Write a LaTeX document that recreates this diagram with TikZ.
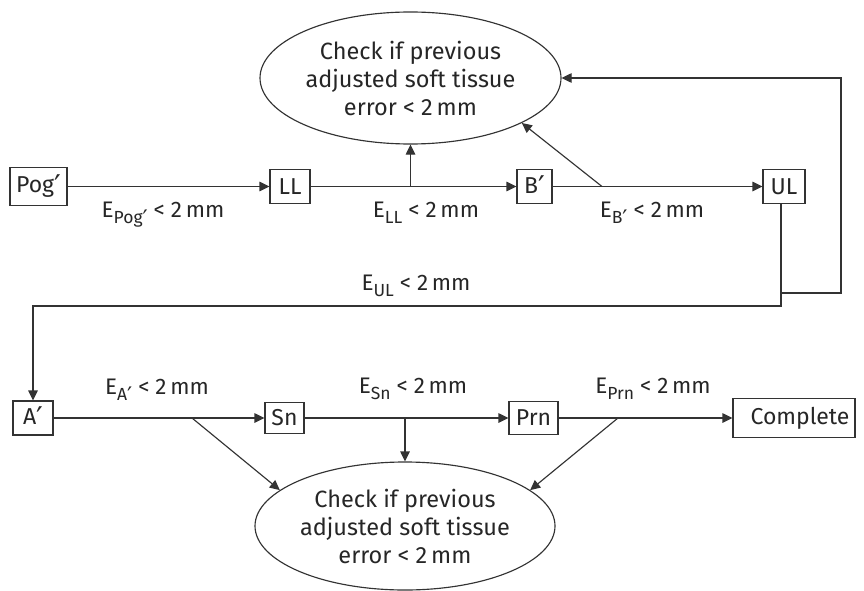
\documentclass[tikz,border=0pt]{standalone}
\usepackage{fontspec}
\setmainfont{Fira Sans}
\newfontfamily\primefont{DejaVu Sans}
\usetikzlibrary{arrows.meta,shapes.geometric,calc}
\definecolor{ink}{HTML}{262626}
\definecolor{wire}{HTML}{333333}
% prime mark, taken from a family that has the glyph
\newcommand{\pr}{{\primefont\raisebox{-0.17em}{\scalebox{1.3}{′}}}}
% "E" with a lowered, smaller subscript
\newcommand{\Esub}[1]{E\raisebox{-0.28em}{\fontsize{17.5}{17.5}\selectfont #1}}
\begin{document}
\begin{tikzpicture}[x=1pt,y=-1pt,
  every node/.style={text=ink,font=\fontsize{23}{28}\selectfont},
  box/.style={draw=wire,line width=1.15pt,inner sep=0pt,fill=white},
  oval/.style={ellipse,draw=wire,line width=1.15pt,inner sep=0pt,align=center,
    font=\fontsize{23.5}{28}\selectfont},
  arr/.style={draw=wire,line width=1.15pt,-{Triangle[length=10pt,width=9.5pt]}},
  cond/.style={anchor=base,font=\fontsize{22.5}{27}\selectfont}]
\useasboundingbox (0,0) rectangle (864,591);

% check nodes
\node[oval,minimum width=301pt,minimum height=132pt] (top) at (410.5,78)
  {Check if previous\\adjusted soft tissue\\error < 2\,mm};
\node[oval,minimum width=300pt,minimum height=128pt] (bot) at (405,526)
  {Check if previous\\adjusted soft tissue\\error < 2\,mm};

% landmark boxes, upper row
\node[box,minimum width=57pt,minimum height=38pt] (pog) at (38.5,186.5) {Pog\pr};
\node[box,minimum width=40pt,minimum height=34pt] (ll)  at (290,186.5) {LL};
\node[box,minimum width=35pt,minimum height=34pt] (bp)  at (534.5,186.5) {B\pr};
\node[box,minimum width=42pt,minimum height=34pt] (ul)  at (784,186.5) {UL};

% landmark boxes, lower row
\node[box,minimum width=40pt,minimum height=34pt] (ap)   at (33,418) {A\pr};
\node[box,minimum width=39pt,minimum height=31pt] (sn)   at (284.5,418) {Sn};
\node[box,minimum width=49pt,minimum height=33pt] (prn)  at (533.5,418) {Prn};
\node[box,minimum width=122pt,minimum height=39pt] (comp) at (794,418) {\hspace*{12pt}Complete};

% condition labels
\node[cond] (cpog) at (163,217) {\Esub{Pog\pr} < 2\,mm};
\node[cond] (cll)  at (426,217) {\Esub{LL} < 2\,mm};
\node[cond] (cbp)  at (652,217) {\Esub{B\pr} < 2\,mm};
\node[cond] (cul)  at (416,290) {\Esub{UL} < 2\,mm};
\node[cond] (cap)  at (157,394) {\Esub{A\pr} < 2\,mm};
\node[cond] (csn)  at (413,393) {\Esub{Sn} < 2\,mm};
\node[cond] (cprn) at (653,393) {\Esub{Prn} < 2\,mm};

% junctions on the main lines
\coordinate (j1) at (410.5,186.5);
\coordinate (j2) at (602,186.5);
\coordinate (drop) at (781,306);
\coordinate (loop) at (841,293);
\coordinate (k1) at (192,418);
\coordinate (k2) at (405,418);
\coordinate (k3) at (618,418);

% upper chain
\draw[arr] (pog) -- (ll);
\draw[arr] (ll) -- (bp);
\draw[arr] (bp) -- (ul);
\draw[arr] (j1) -- (top.south);
\draw[arr] (j2) -- (top.-22);

% transfer to lower chain and feedback loop
\draw[arr] (drop |- ul.south) -- (drop) -| (ap.north);
\draw[arr] (drop |- loop) -- (loop) |- (top.east);

% lower chain
\draw[arr] (ap) -- (sn);
\draw[arr] (sn) -- (prn);
\draw[arr] (prn) -- (comp);
\draw[arr] (k1) -- (bot.164);
\draw[arr] (k2) -- (bot.north);
\draw[arr] (k3) -- (bot.16);
\end{tikzpicture}
\end{document}
